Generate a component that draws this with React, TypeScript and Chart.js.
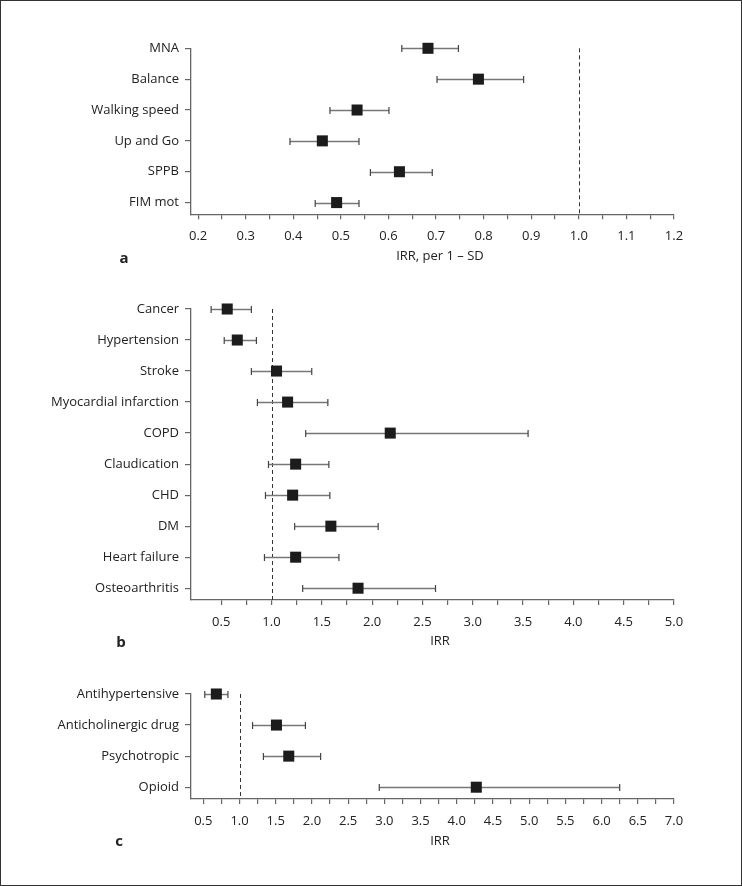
import React, { useEffect, useRef } from "react";
import { Chart, registerables } from "chart.js";

Chart.register(...registerables);

// ---- Panel a ----
const labelsA = ["MNA", "Balance", "Walking speed", "Up and Go", "SPPB", "FIM mot"];
const irrA = [0.683, 0.789, 0.534, 0.461, 0.623, 0.491];
const lowA = [0.628, 0.702, 0.477, 0.393, 0.562, 0.446];
const highA = [0.747, 0.884, 0.601, 0.538, 0.692, 0.538];
const ticksA = ["0.2", "0.3", "0.4", "0.5", "0.6", "0.7", "0.8", "0.9", "1.0", "1.1", "1.2"];

// ---- Panel b ----
const labelsB = ["Cancer", "Hypertension", "Stroke", "Myocardial infarction", "COPD", "Claudication", "CHD", "DM", "Heart failure", "Osteoarthritis"];
const irrB = [0.56, 0.66, 1.05, 1.16, 2.18, 1.24, 1.21, 1.59, 1.24, 1.86];
const lowB = [0.40, 0.53, 0.80, 0.86, 1.34, 0.97, 0.94, 1.23, 0.93, 1.31];
const highB = [0.80, 0.85, 1.40, 1.56, 3.55, 1.57, 1.58, 2.06, 1.67, 2.63];
const ticksB = ["0.5", "1.0", "1.5", "2.0", "2.5", "3.0", "3.5", "4.0", "4.5", "5.0"];

// ---- Panel c ----
const labelsC = ["Antihypertensive", "Anticholinergic drug", "Psychotropic", "Opioid"];
const irrC = [0.68, 1.51, 1.68, 4.27];
const lowC = [0.52, 1.18, 1.33, 2.93];
const highC = [0.84, 1.91, 2.12, 6.25];
const ticksC = ["0.5", "1.0", "1.5", "2.0", "2.5", "3.0", "3.5", "4.0", "4.5", "5.0", "5.5", "6.0", "6.5", "7.0"];

const FONT = "'Open Sans', 'Noto Sans', sans-serif";
const W = 742;

type PanelProps = {
  top: number;
  height: number;
  areaTop: number;
  areaBottom: number;
  labels: string[];
  irr: number[];
  low: number[];
  high: number[];
  majors: string[];
  minorStep: number;
  xMin: number;
  xMax: number;
  refValue: number;
};

const errorPlugin = {
  id: "forestExtras",
  beforeDatasetsDraw(chart: any) {
    const { ctx, chartArea } = chart;
    const xs = chart.scales.x;
    const ys = chart.scales.y;
    const o = chart.options.plugins.forestExtras;
    // reference dashed line
    const rx = xs.getPixelForValue(o.refValue);
    ctx.save();
    ctx.strokeStyle = "#333";
    ctx.lineWidth = 1;
    ctx.setLineDash([4, 3]);
    ctx.beginPath();
    ctx.moveTo(Math.round(rx) + 0.5, chartArea.top);
    ctx.lineTo(Math.round(rx) + 0.5, chartArea.bottom);
    ctx.stroke();
    ctx.setLineDash([]);
    // error bars
    o.low.forEach((lo: number, i: number) => {
      const y = Math.round(ys.getPixelForValue(i)) + 0.5;
      const x1 = xs.getPixelForValue(lo);
      const x2 = xs.getPixelForValue(o.high[i]);
      ctx.strokeStyle = "#777";
      ctx.lineWidth = 1.5;
      ctx.beginPath();
      ctx.moveTo(x1, y);
      ctx.lineTo(x2, y);
      ctx.stroke();
      ctx.strokeStyle = "#444";
      ctx.lineWidth = 1.2;
      ctx.beginPath();
      ctx.moveTo(x1, y - 3.5);
      ctx.lineTo(x1, y + 3.5);
      ctx.moveTo(x2, y - 3.5);
      ctx.lineTo(x2, y + 3.5);
      ctx.stroke();
    });
    ctx.restore();
  },
};

function Panel(p: PanelProps) {
  const ref = useRef<HTMLCanvasElement>(null);
  useEffect(() => {
    if (!ref.current) return;
    const majorVals = p.majors.map((s) => parseFloat(s));
    const chart = new Chart(ref.current, {
      type: "scatter",
      data: {
        datasets: [
          {
            data: p.irr.map((v, i) => ({ x: v, y: i })),
            backgroundColor: "#1c1c1c",
            borderColor: "#1c1c1c",
            pointStyle: "rect",
            pointRadius: 7.8,
            pointHoverRadius: 7.8,
            borderWidth: 0,
            clip: false as any,
          },
        ],
      },
      options: {
        responsive: false,
        animation: false,
        events: [],
        layout: { padding: { top: p.areaTop, right: W - 674, bottom: 0, left: 0 } },
        plugins: {
          legend: { display: false },
          tooltip: { enabled: false },
          forestExtras: { low: p.low, high: p.high, refValue: p.refValue },
        } as any,
        scales: {
          x: {
            type: "linear",
            min: p.xMin,
            max: p.xMax,
            afterFit: (s: any) => {
              s.height = p.height - p.areaBottom;
            },
            afterBuildTicks: (s: any) => {
              const out: any[] = [];
              const first = majorVals[0];
              const last = majorVals[majorVals.length - 1];
              const n = Math.round((last - first) / p.minorStep);
              for (let k = 0; k <= n; k++) out.push({ value: +(first + k * p.minorStep).toFixed(4) });
              s.ticks = out;
            },
            grid: { drawOnChartArea: false, drawTicks: true, tickLength: 5, color: "#666", lineWidth: 1.2 },
            border: { display: true, color: "#666", width: 1.3 },
            ticks: {
              autoSkip: false,
              maxRotation: 0,
              padding: 9.5,
              color: "#222",
              font: { family: FONT, size: 13 },
              callback: (v: any) => {
                const idx = majorVals.findIndex((m) => Math.abs(m - v) < 1e-6);
                return idx >= 0 ? p.majors[idx] : "";
              },
            },
          },
          y: {
            type: "linear",
            reverse: true,
            min: 0,
            max: p.labels.length - 1 + 0.38,
            afterFit: (s: any) => {
              s.width = 191;
            },
            afterBuildTicks: (s: any) => {
              s.ticks = p.labels.map((_, i) => ({ value: i }));
            },
            grid: { drawOnChartArea: false, drawTicks: true, tickLength: 6, color: "#666", lineWidth: 1.2 },
            border: { display: true, color: "#666", width: 1.3 },
            ticks: {
              autoSkip: false,
              padding: 6,
              color: "#222",
              font: { family: FONT, size: 13 },
              callback: (v: any) => p.labels[Math.round(v)] ?? "",
            },
          },
        },
      },
      plugins: [errorPlugin],
    });
    return () => chart.destroy();
  }, []);
  return (
    <canvas
      ref={ref}
      width={W}
      height={p.height}
      style={{ position: "absolute", left: 0, top: p.top, width: W, height: p.height }}
    />
  );
}

function Txt({ x, y, children, bold }: { x: number; y: number; children: any; bold?: boolean }) {
  return (
    <div
      style={{
        position: "absolute",
        left: x,
        top: y,
        transform: "translate(-50%, -50%)",
        fontFamily: FONT,
        fontSize: bold ? 15 : 13,
        fontWeight: bold ? 700 : 400,
        color: "#222",
        whiteSpace: "nowrap",
        lineHeight: 1,
      }}
    >
      {children}
    </div>
  );
}

export default function App() {
  return (
    <div
      style={{
        position: "absolute",
        left: 0,
        top: 0,
        width: W,
        height: 886,
        background: "#fff",
        overflow: "hidden",
      }}
    >
      <Panel top={0} height={270} areaTop={48.3} areaBottom={214.3} labels={labelsA} irr={irrA} low={lowA} high={highA}
        majors={ticksA} minorStep={0.05} xMin={0.185} xMax={1.2} refValue={1} />
      <Panel top={270} height={380} areaTop={39} areaBottom={330} labels={labelsB} irr={irrB} low={lowB} high={highB}
        majors={ticksB} minorStep={0.25} xMin={0.2} xMax={5} refValue={1} />
      <Panel top={650} height={236} areaTop={44} areaBottom={149} labels={labelsC} irr={irrC} low={lowC} high={highC}
        majors={ticksC} minorStep={0.25} xMin={0.33} xMax={7} refValue={1} />
      <Txt x={440} y={255}>IRR, per 1 – SD</Txt>
      <Txt x={440} y={640}>IRR</Txt>
      <Txt x={440} y={840}>IRR</Txt>
      <Txt x={124} y={257} bold>a</Txt>
      <Txt x={121} y={641} bold>b</Txt>
      <Txt x={119} y={840} bold>c</Txt>
      <div
        style={{
          position: "absolute",
          left: 0,
          top: 0,
          width: W,
          height: 886,
          boxSizing: "border-box",
          border: "1px solid #333",
          pointerEvents: "none",
        }}
      />
    </div>
  );
}
